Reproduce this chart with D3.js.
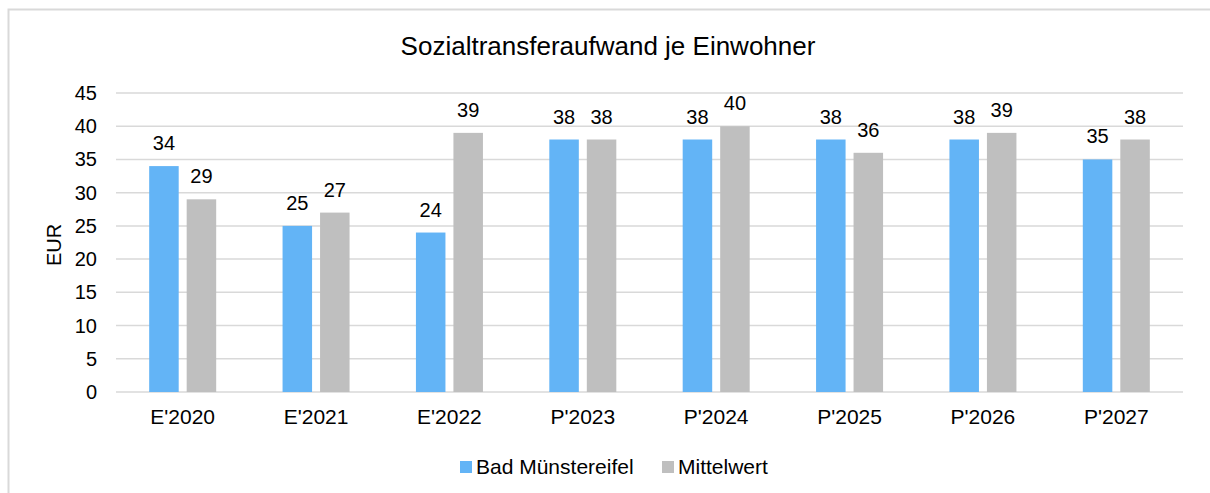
<!DOCTYPE html>
<html>
<head>
<meta charset="utf-8">
<script src="https://cdn.jsdelivr.net/npm/d3@7"></script>
<style>
  body { margin: 0; background: #fff; }
  text { font-family: "Liberation Sans", Arial, sans-serif; fill: #000; }
</style>
</head>
<body>
<svg width="1210" height="493"></svg>
<script>
const categories = ["E'2020", "E'2021", "E'2022", "P'2023", "P'2024", "P'2025", "P'2026", "P'2027"];
const seriesNames = ["Bad Münstereifel", "Mittelwert"];
const badMuenstereifel = [34, 25, 24, 38, 38, 38, 38, 35];
const mittelwert = [29, 27, 39, 38, 40, 36, 39, 38];
const yTicks = [0, 5, 10, 15, 20, 25, 30, 35, 40, 45];
const colors = ["#63b4f6", "#bfbfbf"];

const svg = d3.select("svg");

// chart frame
svg.append("rect")
    .attr("x", 8.5)
    .attr("y", 9.5)
    .attr("width", 1220)
    .attr("height", 500)
    .attr("fill", "#fff")
    .attr("stroke", "#d9d9d9")
    .attr("stroke-width", 2);

const plotLeft = 116, plotRight = 1183, plotTop = 93, plotBottom = 392;

const x0 = d3.scaleBand()
    .domain(categories)
    .range([plotLeft, plotRight]);

const bw = x0.bandwidth();
const x1 = d3.scaleBand()
    .domain(seriesNames)
    .range([bw / 2 - 33.5, bw / 2 + 33.5])
    .paddingInner(0.213);

const y = d3.scaleLinear()
    .domain([0, 45])
    .range([plotBottom, plotTop]);

// gridlines
svg.append("g")
    .selectAll("line")
    .data(yTicks)
    .enter()
    .append("line")
    .attr("x1", plotLeft)
    .attr("x2", plotRight)
    .attr("y1", d => y(d))
    .attr("y2", d => y(d))
    .attr("stroke", "#d9d9d9")
    .attr("stroke-width", 1.5);

// y tick labels
svg.append("g")
    .selectAll("text")
    .data(yTicks)
    .enter()
    .append("text")
    .attr("x", 97)
    .attr("y", d => y(d) + 7)
    .attr("text-anchor", "end")
    .style("font-size", "20px")
    .text(d => d);

// y axis title
svg.append("text")
    .attr("transform", "translate(61, 245) rotate(-90)")
    .attr("text-anchor", "middle")
    .style("font-size", "20px")
    .text("EUR");

const rows = categories.map((c, i) => ({
    cat: c,
    vals: [badMuenstereifel[i], mittelwert[i]]
}));

const groups = svg.append("g")
    .selectAll("g")
    .data(rows)
    .enter()
    .append("g")
    .attr("transform", d => `translate(${x0(d.cat)},0)`);

groups.selectAll("rect")
    .data(d => d.vals.map((v, j) => ({ name: seriesNames[j], v: v, j: j })))
    .enter()
    .append("rect")
    .attr("x", d => x1(d.name))
    .attr("y", d => y(d.v))
    .attr("width", x1.bandwidth())
    .attr("height", d => y(0) - y(d.v))
    .attr("fill", d => colors[d.j]);

// value labels
groups.selectAll("text")
    .data(d => d.vals.map((v, j) => ({ name: seriesNames[j], v: v })))
    .enter()
    .append("text")
    .attr("x", d => x1(d.name) + x1.bandwidth() / 2)
    .attr("y", d => y(d.v) - 16)
    .attr("text-anchor", "middle")
    .style("font-size", "20px")
    .text(d => d.v);

// x category labels
svg.append("g")
    .selectAll("text")
    .data(categories)
    .enter()
    .append("text")
    .attr("x", d => x0(d) + bw / 2)
    .attr("y", 424)
    .attr("text-anchor", "middle")
    .style("font-size", "21px")
    .text(d => d);

// title
svg.append("text")
    .attr("x", 608)
    .attr("y", 55)
    .attr("text-anchor", "middle")
    .style("font-size", "26px")
    .text("Sozialtransferaufwand je Einwohner");

// legend
const legendX = [460, 662];
const legend = svg.append("g")
    .selectAll("g")
    .data(seriesNames)
    .enter()
    .append("g")
    .attr("transform", (d, i) => `translate(${legendX[i]}, 461)`);

legend.append("rect")
    .attr("width", 12)
    .attr("height", 12)
    .attr("fill", (d, i) => colors[i]);

legend.append("text")
    .attr("x", 16)
    .attr("y", 12.5)
    .style("font-size", "21px")
    .text(d => d);
</script>
</body>
</html>
